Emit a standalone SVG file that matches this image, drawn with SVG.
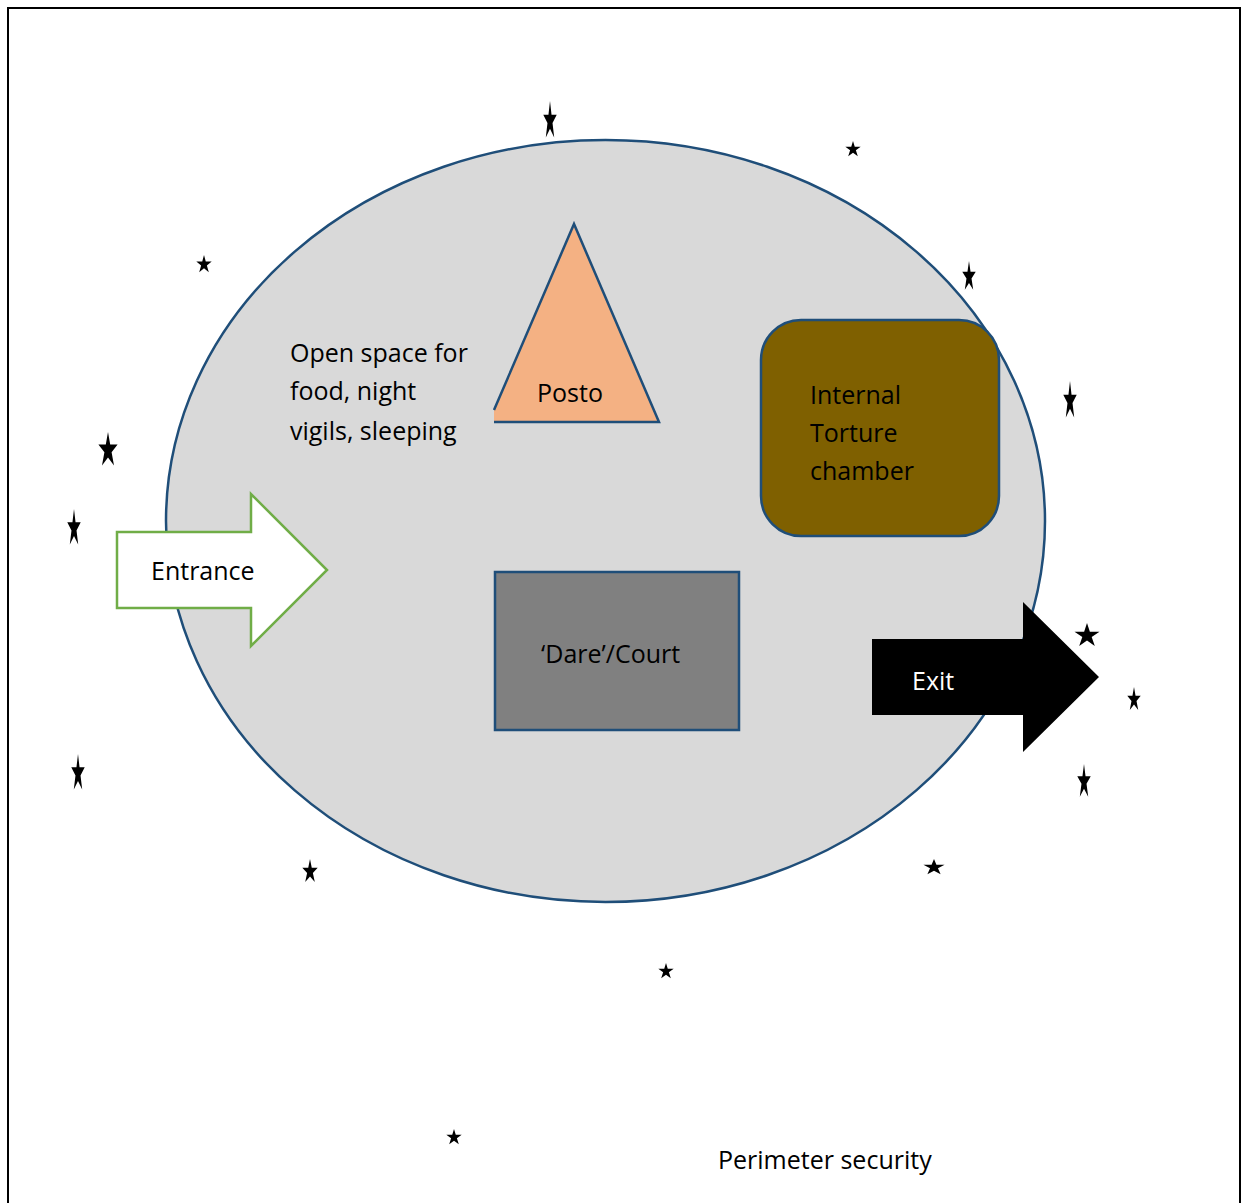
<svg xmlns="http://www.w3.org/2000/svg" xmlns:xlink="http://www.w3.org/1999/xlink" width="1241" height="1203" viewBox="0 0 1241 1203">
<style>
text{font-family:"Open Sans","Liberation Sans",sans-serif;font-size:25px;fill:#000}
.blue{stroke:#1F4E79;stroke-width:2.5}
.st{fill:#000}
</style>
<defs>
<symbol id="star" viewBox="0 0 100 100" preserveAspectRatio="none">
<polygon points="50,0 61,36 98,36 68,58 80,96 50,73 20,96 32,58 2,36 39,36"/>
</symbol>
</defs>
<rect x="0" y="0" width="1241" height="1203" fill="#fff"/>
<rect x="8" y="8" width="1232" height="1220" fill="none" stroke="#000" stroke-width="2"/>
<g id="yard">
<ellipse cx="605.5" cy="521" rx="439.5" ry="381" fill="#D9D9D9" class="blue"/>
</g>
<g id="open-space">
<text x="290" y="362">Open space for</text>
<text x="290" y="400">food, night</text>
<text x="290" y="440">vigils, sleeping</text>
</g>
<g id="posto">
<polygon points="494,410 574,224 659,422 494,422" fill="#F4B183"/>
<path d="M494,410 L574,224 L659,422 L494,422" fill="none" class="blue"/>
<text x="537" y="402">Posto</text>
</g>
<g id="torture">
<rect x="761" y="320" width="238" height="216" rx="40" fill="#7F6000" class="blue"/>
<text x="810" y="404">Internal</text>
<text x="810" y="442">Torture</text>
<text x="810" y="480">chamber</text>
</g>
<g id="court">
<rect x="495" y="572" width="244" height="158" fill="#808080" class="blue"/>
<text x="541" y="663">‘Dare’/Court</text>
</g>
<g id="entrance">
<polygon points="117,532 251,532 251,494 327,570 251,646 251,608 117,608" fill="#fff" stroke="#70AD47" stroke-width="2.5"/>
<text x="151" y="580">Entrance</text>
</g>
<g id="exit">
<polygon points="872,639 1023,639 1023,602 1099,677 1023,752 1023,715 872,715" fill="#000"/>
<text x="912" y="690" style="fill:#fff">Exit</text>
</g>
<g id="perimeter">
<text x="718" y="1169">Perimeter security</text>
</g>
<g id="connectors"></g>
<g id="stars" class="st">
<use href="#star" x="543" y="101" width="14" height="38"/>
<use href="#star" x="845" y="141" width="16" height="16"/>
<use href="#star" x="196" y="255" width="16" height="18"/>
<use href="#star" x="962" y="261" width="14" height="30"/>
<use href="#star" x="1063" y="381" width="14" height="38"/>
<use href="#star" x="98" y="432" width="20" height="35"/>
<use href="#star" x="67" y="509" width="14" height="37"/>
<use href="#star" x="1074" y="623" width="26" height="24"/>
<use href="#star" x="1127" y="687" width="14" height="24"/>
<use href="#star" x="1077" y="764" width="14" height="34"/>
<use href="#star" x="71" y="754" width="14" height="37"/>
<use href="#star" x="302" y="859" width="16" height="24"/>
<use href="#star" x="923" y="859" width="22" height="16"/>
<use href="#star" x="658" y="963" width="16" height="16"/>
<use href="#star" x="446" y="1129" width="16" height="16"/>
</g>
</svg>
